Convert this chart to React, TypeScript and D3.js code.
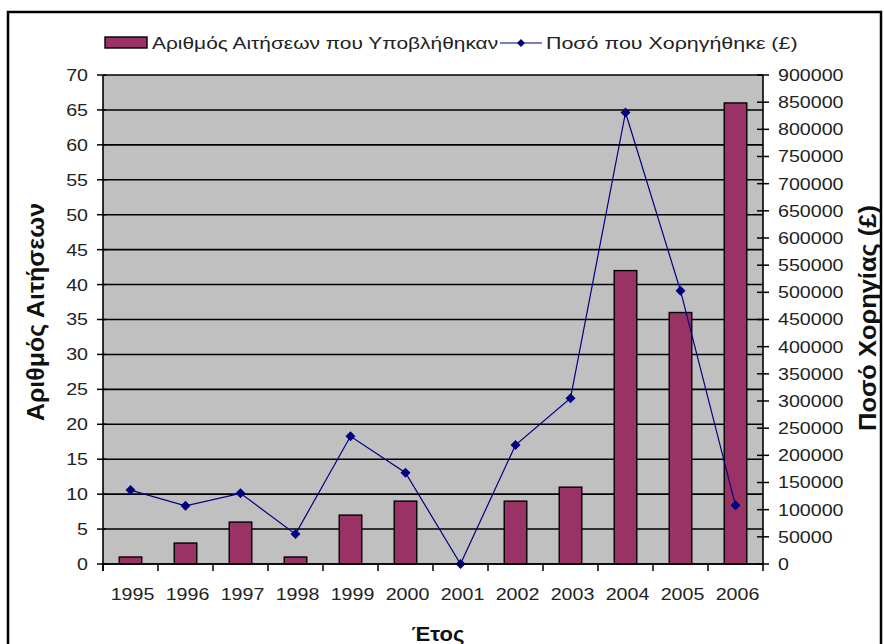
import React from "react";
import * as d3 from "d3";

const years = ["1995","1996","1997","1998","1999","2000","2001","2002","2003","2004","2005","2006"];
const applications = [1, 3, 6, 1, 7, 9, 0, 9, 11, 42, 36, 66];
const amounts = [136000, 107000, 130000, 55000, 235000, 168000, 0, 219000, 305000, 831000, 503000, 108000];
const leftTicks = d3.range(0, 71, 5);
const rightTicks = d3.range(0, 900001, 50000);

const barLabel = "Αριθμός Αιτήσεων που Υποβλήθηκαν";
const lineLabel = "Ποσό που Χορηγήθηκε (£)";
const leftTitle = "Αριθμός Αιτήσεων";
const rightTitle = "Ποσό Χορηγίας (£)";
const xTitle = "Έτος";

const W = 884, H = 644;
const plot = { left: 103, right: 763, top: 75, bottom: 564 };
const FONT = "'Liberation Sans', Arial, sans-serif";
const BAR = "#993366";
const LINE = "#000080";
const SX = 1.19;

function T(props: { x: number; y: number; sx?: number; anchor?: string; size?: number; dy?: string; children: React.ReactNode }) {
  const { x, y, sx = SX, anchor = "start", size = 16.5, dy } = props;
  return (
    <text transform={`translate(${x},${y}) scale(${sx},1)`} dy={dy} textAnchor={anchor} fontSize={size} fill="#222">
      {props.children}
    </text>
  );
}

export default function App() {
  const x = d3.scaleBand().domain(years).range([plot.left, plot.right]);
  const yL = d3.scaleLinear().domain([0, 70]).range([plot.bottom, plot.top]);
  const yR = d3.scaleLinear().domain([0, 900000]).range([plot.bottom, plot.top]);
  const bw = x.bandwidth() * 0.41;
  const cx = (y: string) => (x(y) as number) + x.bandwidth() / 2;
  const line = d3.line<number>().x((_, i) => cx(years[i])).y((d) => yR(d));
  const diamond = (px: number, py: number, r = 4.5) =>
    `M${px},${py - r}L${px + r},${py}L${px},${py + r}L${px - r},${py}Z`;

  return (
    <svg width={W} height={H} style={{ position: "absolute", left: 0, top: 0, background: "#fff" }} fontFamily={FONT}>
      <rect x={0} y={0} width={W} height={H} fill="#fff" />
      <rect x={8} y={12} width={873} height={660} fill="none" stroke="#000" strokeWidth={2.5} />
      {/* plot area */}
      <rect x={plot.left} y={plot.top} width={plot.right - plot.left} height={plot.bottom - plot.top} fill="#C0C0C0" />
      {leftTicks.map((t) => (
        <line key={"g" + t} x1={plot.left} x2={plot.right} y1={yL(t)} y2={yL(t)} stroke="#000" strokeWidth={1.6} />
      ))}
      {/* bars */}
      {applications.map((v, i) => (
        <rect key={"b" + i} x={cx(years[i]) - bw / 2} y={yL(v)} width={bw} height={plot.bottom - yL(v)}
          fill={BAR} stroke="#000" strokeWidth={1.4} />
      ))}
      {/* line */}
      <path d={line(amounts) as string} fill="none" stroke={LINE} strokeWidth={1.2} />
      {amounts.map((v, i) => (
        <path key={"m" + i} d={diamond(cx(years[i]), yR(v), 5)} fill={LINE} />
      ))}
      {/* left axis */}
      <line x1={plot.left} x2={plot.left} y1={plot.top} y2={plot.bottom + 7} stroke="#000" strokeWidth={1.6} />
      {leftTicks.map((t) => (
        <g key={"l" + t}>
          <line x1={plot.left - 6} x2={plot.left + 3} y1={yL(t)} y2={yL(t)} stroke="#000" strokeWidth={1.5} />
          <T x={plot.left - 15} y={yL(t)} dy="0.36em" anchor="end">{t}</T>
        </g>
      ))}
      {/* right axis */}
      <line x1={plot.right} x2={plot.right} y1={plot.top} y2={plot.bottom + 7} stroke="#000" strokeWidth={1.6} />
      {rightTicks.map((t) => (
        <g key={"r" + t}>
          <line x1={plot.right - 6} x2={plot.right + 6} y1={yR(t)} y2={yR(t)} stroke="#000" strokeWidth={1.5} />
          <T x={plot.right + 15} y={yR(t)} dy="0.36em">{t}</T>
        </g>
      ))}
      {/* x axis */}
      <line x1={plot.left} x2={plot.right} y1={plot.bottom} y2={plot.bottom} stroke="#000" strokeWidth={1.6} />
      {years.map((y, i) => (
        <line key={"xt" + i} x1={x(y) as number} x2={x(y) as number} y1={plot.bottom} y2={plot.bottom + 7} stroke="#000" strokeWidth={1.5} />
      ))}
      {years.map((y) => (
        <T key={"xl" + y} x={cx(y) + 2} y={600} anchor="middle">{y}</T>
      ))}
      {/* titles */}
      <text transform="translate(438,641) scale(1.1,1)" textAnchor="middle" fontSize={20} fontWeight="bold" fill="#111">{xTitle}</text>
      <text transform="translate(44,312) rotate(-90) scale(1.06,1)" textAnchor="middle" fontSize={23.5} fontWeight="bold" fill="#111">{leftTitle}</text>
      <text transform="translate(876,318) rotate(-90) scale(1.06,1)" textAnchor="middle" fontSize={24} fontWeight="bold" fill="#111">{rightTitle}</text>
      {/* legend */}
      <rect x={105} y={37} width={42} height={11} fill={BAR} stroke="#000" strokeWidth={1.4} />
      <T x={152} y={49} size={17} sx={1.23}>{barLabel}</T>
      <line x1={500} x2={542} y1={43} y2={43} stroke={LINE} strokeWidth={1.2} />
      <path d={diamond(521, 43, 4)} fill={LINE} />
      <T x={546} y={49} size={17} sx={1.26}>{lineLabel}</T>
    </svg>
  );
}
